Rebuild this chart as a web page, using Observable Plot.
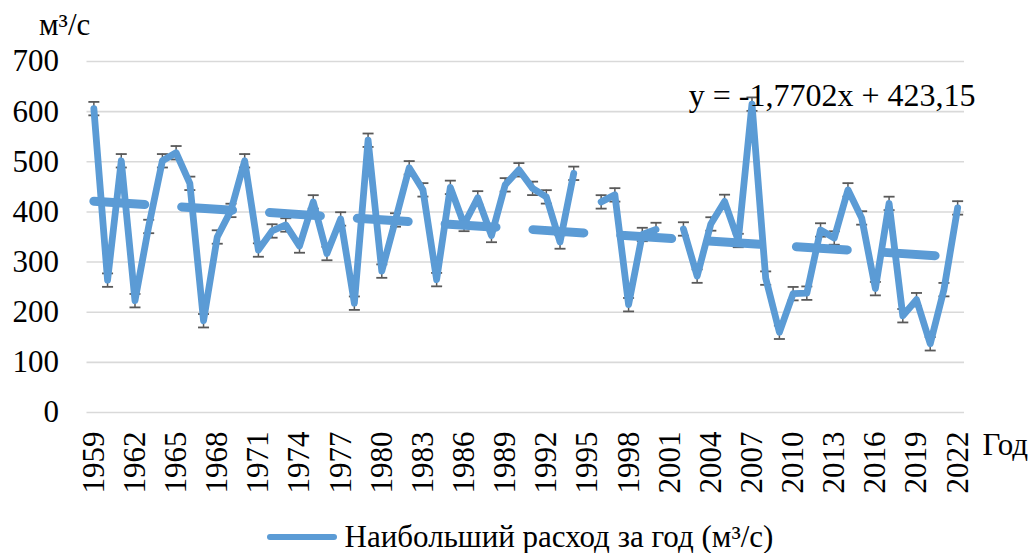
<!DOCTYPE html>
<html>
<head>
<meta charset="utf-8">
<script src="https://cdn.jsdelivr.net/npm/d3@7"></script>
<script src="https://cdn.jsdelivr.net/npm/@observablehq/plot@0.6"></script>
<style>
  html, body { margin: 0; padding: 0; background: #fff; }
  body { width: 1030px; height: 553px; overflow: hidden; font-family: "Liberation Serif", "Times New Roman", serif; }
  #chart svg, #chart svg text { font-family: "Liberation Serif", "Times New Roman", serif !important; }
  #legend { height: 43px; display: flex; align-items: center; justify-content: center; padding-top: 10px; padding-left: 10px; box-sizing: border-box; font-size: 31px; color: #000; }
  #legend .sw { width: 70px; height: 6px; border-radius: 3px; background: #5B9BD5; margin-right: 8px; }
</style>
</head>
<body>
<div id="chart"></div>
<div id="legend"><span class="sw"></span><span id="legendText"></span></div>
<script>
// ---- data ----
const years = d3.range(1959, 2023);
const maxFlow = [
  606, 264, 502, 223, 371, 502, 518, 457, 183, 350,
  403, 502, 324, 362, 374, 332, 420, 317, 386, 218,
  543, 282, 384, 488, 444, 265, 449, 375, 428, 353,
  454, 484, 447, 430, 340, 477, null, 420, 434, 215,
  355, 365, null, 366, 272, 376, 421, 343, 615, 268,
  160, 237, 238, 364, 348, 444, 388, 247, 417, 193,
  225, 137, 245, 408
];
const stdError = 13.4;             // error bar half-length (m³/s)
const trendSlope = -1.7702;        // trend: y = slope * x + intercept, x = 1..64
const trendIntercept = 423.15;
const xTicks = d3.range(1959, 2023, 3);
const yTicks = [0, 100, 200, 300, 400, 500, 600, 700];
const unitLabel = "м³/с";
const xAxisLabel = "Год";
const equationLabel = "y = -1,7702x + 423,15";
const seriesName = "Наибольший расход за год (м³/с)";

// ---- tables ----
const rows = years.map((year, i) => ({year, v: maxFlow[i]}));
const valid = rows.filter(d => d.v != null);
const trend = [years[0], years[years.length - 1]].map(year => ({
  year, v: trendSlope * (year - years[0] + 1) + trendIntercept
}));

const capSymbol = {
  draw(context, size) {
    const w = Math.sqrt(size / Math.PI);
    context.moveTo(-w, 0);
    context.lineTo(w, 0);
  }
};

const blue = "#5B9BD5";
const grey = "#595959";

const chart = Plot.plot({
  width: 1030,
  height: 510,
  marginLeft: 86.5,
  marginRight: 66,
  marginTop: 61,
  marginBottom: 98,
  style: {fontFamily: "'Liberation Serif', 'Times New Roman', serif", fontSize: "31px", color: "#000", background: "#fff"},
  x: {domain: [1958.5, 2022.5]},
  y: {domain: [0, 700]},
  marks: [
    Plot.ruleY(yTicks, {stroke: "#d9d9d9", strokeWidth: 1.6}),
    Plot.axisY({ticks: yTicks, tickSize: 0, tickPadding: 28, label: null}),
    Plot.axisX({ticks: xTicks, tickSize: 0, tickPadding: 19, tickRotate: -90, tickFormat: d => String(d), label: null}),
    Plot.ruleX(valid, {x: "year", y1: d => d.v - stdError, y2: d => d.v + stdError, stroke: grey, strokeWidth: 1.5}),
    Plot.dot(valid, {x: "year", y: d => d.v + stdError, symbol: capSymbol, r: 5.5, stroke: grey, strokeWidth: 1.8, fill: "none"}),
    Plot.dot(valid, {x: "year", y: d => d.v - stdError, symbol: capSymbol, r: 5.5, stroke: grey, strokeWidth: 1.8, fill: "none"}),
    Plot.line(rows, {x: "year", y: "v", stroke: blue, strokeWidth: 6.8, strokeLinejoin: "round", strokeLinecap: "round"}),
    Plot.line(trend, {x: "year", y: "v", stroke: blue, strokeWidth: 9, strokeDasharray: "51,37", strokeLinecap: "round"}),
    Plot.text([equationLabel], {frameAnchor: "top-right", dx: 11, dy: 34, textAnchor: "end", lineAnchor: "middle", fill: "#000", fontSize: 32}),
    Plot.text([unitLabel], {frameAnchor: "top-left", dx: -48, dy: -36, textAnchor: "start", lineAnchor: "middle", fill: "#000"}),
    Plot.text([xAxisLabel], {frameAnchor: "bottom-right", dx: 18, dy: 33, textAnchor: "start", lineAnchor: "middle", fill: "#000"})
  ]
});
document.getElementById("chart").appendChild(chart);
document.getElementById("legendText").textContent = seriesName;
</script>
</body>
</html>
